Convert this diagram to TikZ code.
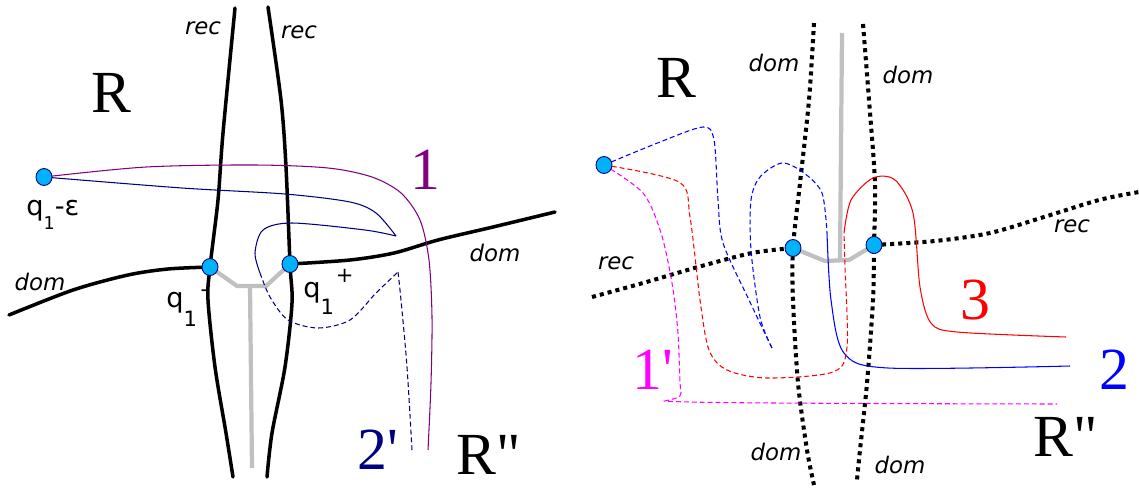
\documentclass[tikz,border=0pt]{standalone}
\usepackage{fontspec}
\setmainfont{Liberation Serif}
\newfontfamily\labfont{DejaVu Sans}
\font\bigserif="Liberation Serif" at 34pt
\definecolor{dotcyan}{RGB}{0,178,250}
\definecolor{spinegray}{RGB}{192,192,192}
\definecolor{pathnavy}{RGB}{0,0,128}
\definecolor{pathpurple}{RGB}{128,0,128}
\definecolor{pathmagenta}{RGB}{255,0,255}
\definecolor{pathred}{RGB}{255,0,0}
\definecolor{pathblue}{RGB}{0,0,255}
\newcommand{\qsub}[2]{\raisebox{#2}{\fontsize{#1}{#1}\selectfont 1}}
\newcommand{\qsup}[2]{\raisebox{#2}{\fontsize{12}{12}\selectfont #1}}
\tikzset{
  dot/.style={draw=pathnavy, fill=dotcyan, ellipse, line width=0.5pt, minimum width=0.32cm, minimum height=0.34cm, inner sep=0pt},
  wall/.style={line width=2pt, line cap=round},
  dotwall/.style={line width=2.3pt, dash pattern=on 2.3pt off 2.3pt},
  spine/.style={spinegray, line width=2.4pt},
  trail/.style={line width=0.6pt},
  dtrail/.style={line width=0.6pt, dash pattern=on 2.8pt off 1.7pt},
  big/.style={font=\bigserif},
  side/.style={font=\labfont\itshape\fontsize{13}{13}\selectfont},
  qlab/.style={font=\labfont\fontsize{15.5}{15.5}\selectfont, anchor=base west, inner sep=0pt}
}
\usetikzlibrary{shapes.geometric}
\begin{document}
\begin{tikzpicture}[x=0.02cm, y=-0.02cm]
\useasboundingbox (0,0) rectangle (1139,487);

% left picture
\coordinate (qe) at (44,177);
\coordinate (qm) at (210,267);
\coordinate (qp) at (290,264);

\draw[wall] plot[smooth] coordinates {(235,8) (223,133) (218,200) (qm) (208,300) (215,367) (226,433) (233,477)};
\draw[wall] plot[smooth] coordinates {(268,7) (281,100) (286,167) (qp) (292,303) (285,367) (272,433) (267,477)};
\draw[wall] plot[smooth] coordinates {(9,315) (73,290) (128,275) (168,269) (qm)};
\draw[wall] plot[smooth] coordinates {(qp) (350,260) (394,253) (438,240) (493,227) (555,212)};

\draw[spine] (qm) -- (237,286) -- (266,286) -- (qp);
\draw[spine] (250,286) -- (252,468);

\draw[trail, pathpurple] plot[smooth] coordinates {(qe) (146,167) (255,165) (328,168) (372,177) (401,193) (420,220) (429,260) (432,317) (431,383) (428,450)};
\draw[trail, pathnavy] plot[smooth] coordinates {(qe) (182,188) (285,194) (350,202) (376,213) (396,236)};
\draw[trail, pathnavy] plot[smooth] coordinates {(396,236) (365,230) (292,223) (263,230) (255,253) (260,273)};
\draw[dtrail, pathnavy] plot[smooth] coordinates {(260,273) (270,297) (288,320) (318,328) (350,320) (376,293) (398,272)};
\draw[dtrail, pathnavy] plot[smooth] coordinates {(398,272) (401,300) (407,367) (412,450)};

\node[dot] (qedot) at (qe) {};
\node[dot] (qmdot) at (qm) {};
\node[dot] (qpdot) at (qp) {};

\node[side] (recl) at (203,28) {rec};
\node[side] (recr) at (299,32) {rec};
\node[side] (doml) at (40,282) {dom};
\node[side] (domr) at (495,253) {dom};
\node[big] (regl) at (111,93) {R};
\node[big] (regll) at (489,455) {R"};
\node[big, pathpurple] (one) at (425,170) {1};
\node[big, pathnavy] (twop) at (378,450) {2'};
\node[qlab] (qelab) at (26,215) {q\qsub{10}{-8pt}-ε};
\node[qlab] (qmlab) at (166,307) {q\qsub{12}{-11pt}\hspace{2pt}\qsup{-}{6pt}};
\node[qlab] (qplab) at (303,297) {q\qsub{12}{-10pt}\hspace{1pt}\qsup{+}{8pt}};

% right picture
\coordinate (se) at (604,165);
\coordinate (sm) at (793,248);
\coordinate (sp) at (874,245);

\draw[dotwall] plot[smooth] coordinates {(814,23) (809,100) (800,183) (sm) (793,300) (798,383) (807,450) (814,485)};
\draw[dotwall] plot[smooth] coordinates {(863,24) (869,100) (875,183) (sp) (873,300) (867,383) (860,450) (857,480)};
\draw[dotwall] plot[smooth] coordinates {(592,297) (643,283) (698,267) (752,253) (sm)};
\draw[dotwall] plot[smooth] coordinates {(sp) (935,241) (990,233) (1044,217) (1099,200) (1139,192)};

\draw[spine] (sm) -- (825,261) -- (849,260) -- (sp);
\draw[spine] (840,261) -- (842,33);

\draw[dtrail, pathblue] plot[smooth] coordinates {(se) (660,142) (703,127) (714,140) (718,200) (723,243) (749,300) (772,348)};
\draw[dtrail, pathblue] plot[smooth] coordinates {(772,348) (760,317) (751,250) (751,200) (760,177) (782,163) (804,173) (822,193) (827,233)};
\draw[trail, pathblue] plot[smooth] coordinates {(827,233) (831,300) (844,353) (888,368) (1070,366)};
\draw[dtrail, pathred] plot[smooth] coordinates {(se) (679,182) (690,217) (700,300) (709,350) (727,370) (767,378) (833,372) (847,347) (845,267) (844,233)};
\draw[trail, pathred] plot[smooth] coordinates {(844,233) (851,200) (873,178) (895,180) (913,213) (920,287) (931,323) (957,332) (1066,337)};
\draw[dtrail, pathmagenta] plot[smooth] coordinates {(se) (643,193) (661,233) (672,283) (678,333) (681,393) (690,402) (1057,404)};

\node[dot] (sedot) at (se) {};
\node[dot] (smdot) at (sm) {};
\node[dot] (spdot) at (sp) {};

\node[side] (domtl) at (774,63) {dom};
\node[side] (domtr) at (908,75) {dom};
\node[side] (dombl) at (776,452) {dom};
\node[side] (dombr) at (900,465) {dom};
\node[side] (recsl) at (616,263) {rec};
\node[side] (recsr) at (1072,226) {rec};
\node[big] (regr) at (676,78) {R};
\node[big] (regrr) at (1066,437) {R"};
\node[big, pathred] (three) at (975,300) {3};
\node[big, pathblue] (two) at (1114,370) {2};
\node[big, pathmagenta] (onep) at (653,370) {1'};
\end{tikzpicture}
\end{document}
